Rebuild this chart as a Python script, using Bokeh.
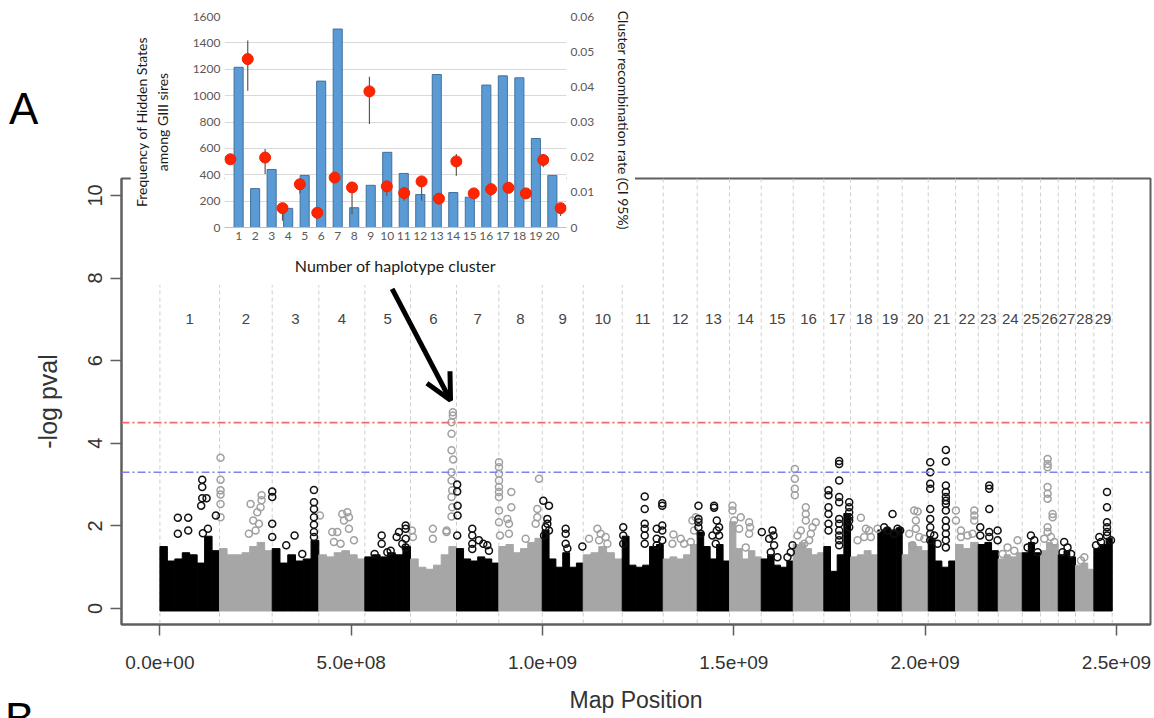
from bokeh.plotting import figure
from bokeh.models import (Range1d, FixedTicker, Span, Arrow, OpenHead, LinearAxis, Div)
from bokeh.layouts import column
from bokeh.embed import file_html
from bokeh.resources import INLINE
from bokeh.core.properties import value

# ---------------- main Manhattan plot data ----------------
chrom_names = [str(i) for i in range(1, 30)]
chrom_start_mb = [0, 155.8, 293.5, 415.3, 535.6, 655.0, 775.2, 885.8, 999.2, 1106.4,
                  1208.3, 1315.5, 1404.3, 1488.8, 1571.6, 1655.3, 1735.2, 1805.0, 1876.4,
                  1940.1, 2008.1, 2079.5, 2138.8, 2191.1, 2253.8, 2301.6, 2347.9, 2393.1,
                  2441.0]
genome_end_mb = 2489.0

# upper envelope of the dense point cloud, per chromosome (-log pval)
skyline_tops = [
    [1.5, 1.15, 1.2, 1.35, 1.3, 1.1, 1.75, 1.4],
    [1.45, 1.3, 1.3, 1.35, 1.5, 1.6, 1.4],
    [1.45, 1.1, 1.3, 1.15, 1.2, 1.65],
    [1.3, 1.25, 1.35, 1.4, 1.3, 1.2],
    [1.25, 1.3, 1.25, 1.35, 1.3, 1.5],
    [1.2, 1.0, 0.95, 1.05, 1.3, 1.5],
    [1.45, 1.2, 1.15, 1.25, 1.2, 1.1],
    [1.5, 1.55, 1.35, 1.45, 1.6, 1.7],
    [1.9, 1.2, 1.0, 1.35, 1.0, 1.1],
    [1.3, 1.35, 1.5, 1.35, 1.2],
    [1.75, 1.05, 1.0, 1.05, 1.5, 1.55],
    [1.2, 1.25, 1.2, 1.3, 1.55],
    [1.85, 1.5, 1.2, 1.55, 1.15],
    [2.1, 1.45, 1.2, 1.4, 1.25],
    [1.2, 1.3, 1.05, 1.0, 1.15],
    [1.55, 1.6, 1.45, 1.3, 1.35],
    [1.5, 0.9, 1.3, 2.3],
    [1.25, 1.3, 1.4, 1.3],
    [1.9, 1.95, 1.9, 1.95],
    [1.3, 1.6, 1.5, 1.4],
    [1.7, 1.15, 1.0, 1.15],
    [1.55, 1.45, 1.6],
    [1.55, 1.6, 1.4],
    [1.2, 1.3, 1.25, 1.35],
    [1.35, 1.6, 1.35],
    [1.4, 1.6, 1.55],
    [1.3, 1.4, 1.25],
    [1.05, 1.1, 0.95],
    [1.45, 1.55, 1.7],
]

# individual SNPs standing out of the cloud: (position Mb, -log pval)
black_outliers = [
    (46.9, 2.20), (74.0, 2.20), (74.0, 1.89), (46.9, 1.81), (110.6, 3.12), (110.6, 2.94),
    (110.6, 2.67), (121.9, 2.67), (107.9, 2.49), (146.3, 2.25), (125.4, 1.93), (112.3, 1.82),
    (293.6, 2.83), (293.6, 2.70), (293.6, 2.05), (293.6, 1.73), (330.2, 1.53), (352.0, 1.77),
    (372.1, 1.32), (402.6, 2.87), (402.6, 2.57), (402.6, 2.41), (402.6, 2.21), (402.6, 2.03),
    (402.6, 1.85), (402.6, 1.73),
    (579.6, 1.77), (579.6, 1.57), (561.2, 1.32), (594.4, 1.36), (624.9, 1.85), (618.8, 1.73),
    (642.3, 2.01), (642.3, 1.93), (642.3, 1.69), (642.3, 1.48), (603.1, 1.40), (633.6, 1.57),
    (777.0, 3.00), (777.0, 2.83), (778.0, 2.49), (778.0, 2.25), (777.0, 1.77), (816.4, 1.93),
    (816.4, 1.77), (816.4, 1.57), (816.4, 1.44), (833.9, 1.65), (845.2, 1.57), (855.7, 1.53),
    (860.0, 1.40),
    (1002.1, 2.61), (1016.9, 2.49), (1012.6, 2.17), (1012.6, 2.05), (1008.2, 1.97),
    (1003.9, 1.77), (1016.9, 1.89), (1060.5, 1.93), (1060.5, 1.81), (1060.5, 1.57),
    (1064.9, 1.45), (1104.1, 1.50),
    (1211.0, 1.97), (1211.0, 1.77), (1211.0, 1.57), (1267.1, 2.71), (1267.1, 2.41),
    (1267.1, 2.05), (1267.1, 1.93), (1267.1, 1.77), (1267.1, 1.57), (1298.5, 1.93),
    (1298.5, 1.69), (1298.5, 1.53), (1313.0, 2.55), (1313.0, 2.49), (1313.0, 2.01),
    (1313.0, 1.89), (1313.0, 1.65),
    (1407.5, 2.49), (1407.5, 2.17), (1407.5, 2.09), (1407.5, 1.97), (1413.6, 1.81),
    (1448.4, 2.49), (1448.4, 2.44), (1455.4, 2.13), (1455.4, 1.89), (1461.5, 1.97),
    (1461.5, 1.77), (1452.8, 1.57), (1444.1, 1.77),
    (1573.1, 1.85), (1592.3, 1.69), (1601.0, 1.89), (1603.6, 1.77), (1605.3, 1.53),
    (1596.6, 1.36), (1614.0, 1.24), (1640.2, 1.24), (1653.3, 1.53), (1648.9, 1.36),
    (1747.4, 2.86), (1747.4, 2.74), (1747.4, 2.45), (1747.4, 2.29), (1747.4, 2.05),
    (1747.4, 1.89), (1775.3, 3.57), (1775.3, 3.50), (1775.3, 3.10), (1775.3, 2.70),
    (1775.3, 2.57), (1775.3, 2.17), (1775.3, 2.05), (1775.3, 1.89), (1775.3, 1.77),
    (1775.3, 1.65), (1775.3, 1.53), (1801.5, 2.57), (1801.5, 2.45), (1801.5, 2.33),
    (1801.5, 2.21), (1801.5, 2.13), (1801.5, 1.97),
    (1914.8, 2.29), (1893.0, 1.97), (1927.9, 1.93), (1901.7, 1.89), (1919.1, 1.81),
    (1934.8, 1.89),
    (2013.3, 3.54), (2013.3, 3.30), (2013.3, 3.02), (2013.3, 2.90), (2013.3, 2.41),
    (2013.3, 2.17), (2013.3, 1.97), (2013.3, 1.81), (2013.3, 1.65), (2054.2, 3.84),
    (2054.2, 3.56), (2054.2, 2.98), (2054.2, 2.82), (2054.2, 2.70), (2054.2, 2.61),
    (2054.2, 2.53), (2054.2, 2.37), (2054.2, 2.13), (2054.2, 1.97), (2054.2, 1.81),
    (2054.2, 1.65), (2054.2, 1.48), (2023.7, 1.77), (2032.5, 1.57),
    (2167.6, 2.98), (2167.6, 2.90), (2167.6, 2.41), (2167.6, 1.85), (2167.6, 1.73),
    (2144.1, 1.97), (2144.1, 1.77), (2189.4, 1.89), (2189.4, 1.65),
    (2276.5, 1.77), (2285.3, 1.65), (2267.8, 1.48), (2294.0, 1.36),
    (2363.4, 1.61), (2372.1, 1.48), (2359.1, 1.36), (2381.4, 1.32),
    (2475.3, 2.82), (2475.3, 2.45), (2475.3, 2.09), (2475.3, 1.97), (2475.3, 1.85),
    (2475.3, 1.77), (2455.2, 1.73), (2459.6, 1.61), (2446.5, 1.53), (2485.7, 1.65),
]
gray_outliers = [
    (158.5, 3.65), (158.5, 3.12), (158.5, 2.86), (158.5, 2.76), (237.0, 2.53), (265.7, 2.74),
    (265.7, 2.62), (254.4, 2.33), (243.9, 2.13), (250.0, 1.89), (232.6, 1.81), (263.1, 2.45),
    (258.8, 2.05), (158.5, 2.53), (158.5, 2.21),
    (418.3, 2.25), (450.5, 1.85), (463.6, 1.85), (476.7, 2.29), (489.8, 2.33), (494.1, 2.21),
    (481.0, 2.13), (494.1, 1.93), (472.3, 1.57), (454.9, 1.61), (507.2, 1.65),
    (658.6, 1.89), (661.2, 1.73), (713.4, 1.93), (713.4, 1.69), (749.3, 1.89), (765.6, 4.75),
    (765.6, 4.67), (762.2, 4.51), (762.2, 4.23), (762.2, 3.83), (766.6, 3.61), (762.2, 3.30),
    (762.2, 3.10), (764.0, 2.86), (762.2, 2.70), (764.0, 2.45), (762.2, 2.23), (749.1, 1.85),
    (886.2, 3.54), (886.2, 3.42), (886.2, 3.26), (886.2, 3.10), (886.2, 2.94), (886.2, 2.82),
    (886.2, 2.70), (886.2, 2.37), (886.2, 2.09), (888.8, 1.77), (918.4, 2.82), (918.4, 2.45),
    (908.0, 2.17), (912.3, 2.05), (912.3, 1.81), (955.9, 1.69), (986.4, 2.21), (990.8, 3.14),
    (986.4, 2.41), (982.1, 2.05),
    (1121.5, 1.69), (1143.4, 1.93), (1152.0, 1.81), (1165.0, 1.73), (1147.7, 1.65),
    (1169.5, 1.57),
    (1342.1, 1.79), (1361.3, 1.69), (1391.8, 2.13), (1396.1, 1.89), (1387.4, 1.61),
    (1370.0, 1.57), (1339.5, 1.57), (1400.5, 2.21),
    (1496.4, 2.49), (1496.4, 2.37), (1518.2, 2.21), (1513.8, 1.93), (1540.0, 2.09),
    (1542.6, 1.97), (1540.0, 1.81), (1531.2, 1.48), (1500.7, 2.13),
    (1659.4, 3.38), (1659.4, 3.14), (1659.4, 2.90), (1659.4, 2.74), (1688.1, 2.45),
    (1688.1, 2.29), (1688.1, 2.13), (1675.1, 1.89), (1666.4, 1.77), (1714.3, 2.09),
    (1705.6, 1.97), (1696.9, 1.65), (1683.8, 1.57), (1701.2, 1.81),
    (1832.0, 2.20), (1845.1, 1.93), (1853.8, 1.89), (1858.1, 1.73), (1875.6, 1.93),
    (1840.7, 1.73), (1823.3, 1.65),
    (1971.5, 2.37), (1980.2, 2.35), (1975.8, 2.13), (1975.8, 1.93), (1984.5, 1.73),
    (1958.4, 1.81), (1997.6, 1.69), (1967.1, 1.53),
    (2080.4, 2.37), (2080.4, 2.13), (2093.5, 1.89), (2093.5, 1.73), (2128.4, 2.37),
    (2128.4, 2.25), (2128.4, 2.13), (2111.0, 1.77), (2124.0, 1.81),
    (2215.5, 1.48), (2232.9, 1.40), (2202.5, 1.32), (2241.7, 1.65),
    (2320.1, 3.62), (2320.1, 3.50), (2320.1, 3.42), (2320.1, 2.94), (2320.1, 2.78),
    (2320.1, 2.66), (2333.2, 2.29), (2333.2, 2.21), (2320.1, 1.97), (2320.1, 1.85),
    (2311.4, 1.69), (2328.9, 1.73), (2337.6, 1.61),
    (2416.0, 1.24), (2407.3, 1.16),
]

threshold_values = [4.5, 3.3]
threshold_colors = ["#F06A6A", "#8080F2"]
x_ticks = [0, 5e8, 1e9, 1.5e9, 2e9, 2.5e9]
x_tick_labels = ["0.0e+00", "5.0e+08", "1.0e+09", "1.5e+09", "2.0e+09", "2.5e+09"]
y_ticks = [0, 2, 4, 6, 8, 10]
chrom_label_level = 7
arrow_from = (607e6, 7.74)
arrow_to = (759.5e6, 5.04)
panel_letters = ["A", "B"]

# ---------------- inset data ----------------
cluster_ids = list(range(1, 21))
hidden_state_freq = [1215, 295, 440, 145, 395, 1110, 1505, 150, 320, 570,
                     410, 250, 1160, 265, 230, 1080, 1150, 1135, 675, 395]
recomb_rate = [0.0194, 0.0479, 0.0199, 0.0055, 0.0123, 0.0042, 0.0142, 0.0114, 0.0387, 0.0117,
               0.0098, 0.0131, 0.0082, 0.0188, 0.0097, 0.0109, 0.0113, 0.0097, 0.0192, 0.0055]
recomb_low = [0.0185, 0.0389, 0.0152, 0.0019, 0.0097, 0.0033, 0.0133, 0.0038, 0.0294, 0.0090,
              0.0076, 0.0076, 0.0071, 0.0147, 0.0085, 0.0090, 0.0100, 0.0085, 0.0171, 0.0033]
recomb_high = [0.0203, 0.0532, 0.0223, 0.0066, 0.0133, 0.0052, 0.0152, 0.0128, 0.0429, 0.0128,
               0.0109, 0.0147, 0.0090, 0.0209, 0.0104, 0.0123, 0.0123, 0.0104, 0.0209, 0.0066]
freq_ticks = [0, 200, 400, 600, 800, 1000, 1200, 1400, 1600]
rate_ticks = [0, 0.01, 0.02, 0.03, 0.04, 0.05, 0.06]
rate_tick_labels = ["0", "0.01", "0.02", "0.03", "0.04", "0.05", "0.06"]

MB = 1e6
BLACK = "#000000"
GRAY = "#A6A6A6"
R_FONT = "Liberation Sans"
XL_FONT = "Lato"

# ---------------- main figure ----------------
p = figure(width=1152, height=718,
           x_range=Range1d(-0.1004e9, 2.589e9), y_range=Range1d(-0.387, 10.41),
           output_backend="svg", toolbar_location=None,
           min_border_left=121, min_border_right=2, min_border_top=178, min_border_bottom=94)
if "frame_align" in p.properties():
    p.frame_align = False
p.grid.visible = False
p.outline_line_color = "#5E5E5E"
p.outline_line_width = 2
p.background_fill_color = "white"
p.border_fill_color = "white"

chrom_end_mb = chrom_start_mb[1:] + [genome_end_mb]

# chromosome separators
for loc in chrom_start_mb + [genome_end_mb]:
    p.add_layout(Span(location=loc * MB, dimension="height", line_color="#CFCFCF",
                      line_dash="4 3", line_width=1, level="underlay"))

# dense cloud
q_left, q_right, q_top, q_col = [], [], [], []
for i, tops in enumerate(skyline_tops):
    s, e = chrom_start_mb[i], chrom_end_mb[i]
    w = (e - s) / len(tops)
    col = BLACK if i % 2 == 0 else GRAY
    for j, t in enumerate(tops):
        q_left.append((s + j * w) * MB)
        q_right.append((s + (j + 1) * w) * MB)
        q_top.append(t)
        q_col.append(col)
p.quad(left=q_left, right=q_right, bottom=[-0.06] * len(q_top), top=q_top,
       fill_color=q_col, line_color=q_col, line_width=1)

p.scatter(x=[m * MB for m, v in gray_outliers], y=[v for m, v in gray_outliers],
          marker="circle", size=7, fill_color=None, line_color="#A0A0A0", line_width=1.5)
p.scatter(x=[m * MB for m, v in black_outliers], y=[v for m, v in black_outliers],
          marker="circle", size=7, fill_color=None, line_color="#111111", line_width=1.5)

for lvl, colr in zip(threshold_values, threshold_colors):
    p.add_layout(Span(location=lvl, dimension="width", line_color=colr,
                      line_dash="8 3 2 3", line_width=1.6))

mids = [(s + e) / 2 * MB for s, e in zip(chrom_start_mb, chrom_end_mb)]
p.text(x=mids, y=[chrom_label_level] * len(mids), text=chrom_names,
       text_align="center", text_baseline="middle", text_font=value(R_FONT),
       text_font_size="15px", text_color="#444444")

p.add_layout(Arrow(end=OpenHead(size=26, line_width=5, line_color="black"),
                   x_start=arrow_from[0], y_start=arrow_from[1],
                   x_end=arrow_to[0], y_end=arrow_to[1],
                   line_width=5, line_color="black"))

# axes
xa = p.xaxis[0]
xa.ticker = FixedTicker(ticks=x_ticks)
xa.major_label_overrides = dict(zip(x_ticks, x_tick_labels))
xa.axis_label = "Map Position"
ya = p.yaxis[0]
ya.ticker = FixedTicker(ticks=y_ticks)
ya.axis_label = "-log pval"
ya.major_label_orientation = "vertical"
for ax in (xa, ya):
    ax.axis_line_color = "#5E5E5E"
    ax.axis_line_width = 2
    ax.major_tick_line_color = "#5E5E5E"
    ax.major_tick_line_width = 1.5
    ax.major_tick_out = 11
    ax.major_tick_in = 0
    ax.minor_tick_line_color = None
    ax.major_label_text_font = R_FONT
    ax.major_label_text_color = "#333333"
    ax.axis_label_text_font = R_FONT
    ax.axis_label_text_font_style = "normal"
    ax.axis_label_text_color = "#333333"
xa.major_label_text_font_size = "19px"
xa.axis_label_text_font_size = "23px"
xa.major_label_standoff = 20
xa.axis_label_standoff = 15
ya.major_label_text_font_size = "20px"
ya.axis_label_text_font_size = "25px"
ya.major_label_standoff = 8
ya.axis_label_standoff = 24

# ---------------- inset figure ----------------
PAD = 6  # px of frame padding so edge markers are not clipped
BAR_PX = 338.3 / len(cluster_ids)
PT_PX = 338.3 / (len(cluster_ids) - 1)
inset = figure(width=505, height=285,
               x_range=Range1d(cluster_ids[0] - 0.5 - PAD / BAR_PX,
                               cluster_ids[-1] + 0.5 + PAD / BAR_PX),
               y_range=Range1d(0, 1600),
               output_backend="svg", toolbar_location=None,
               min_border_left=97 - PAD, min_border_right=70 - PAD, min_border_top=16,
               min_border_bottom=58)
if "frame_align" in inset.properties():
    inset.frame_align = False
inset.extra_y_ranges = {"rate": Range1d(0, 0.06)}
# the rate series is laid out "on tick marks": first point at left edge, last at right edge
inset.extra_x_ranges = {"pts": Range1d(cluster_ids[0] - PAD / PT_PX,
                                       cluster_ids[-1] + PAD / PT_PX)}
inset.outline_line_color = None
inset.background_fill_color = "white"
inset.border_fill_color = "white"
inset.xgrid.visible = False
inset.ygrid.grid_line_color = "#D9D9D9"
inset.ygrid.grid_line_width = 1

inset.vbar(x=cluster_ids, top=hidden_state_freq, width=0.55,
           fill_color="#5B9BD5", line_color="#41719C", line_width=1)

inset.segment(x0=cluster_ids, y0=recomb_low, x1=cluster_ids, y1=recomb_high,
              x_range_name="pts", y_range_name="rate",
              line_color="#5A5A5A", line_width=1.2)
inset.scatter(x=cluster_ids, y=recomb_rate, x_range_name="pts", y_range_name="rate",
              marker="circle", size=11, fill_color="#FF2400", line_color="#F02000",
              line_width=1)

ly = inset.yaxis[0]
ly.ticker = FixedTicker(ticks=freq_ticks)
ly.axis_label = "Frequency of Hidden States\namong GIII sires"

ry = LinearAxis(y_range_name="rate", ticker=FixedTicker(ticks=rate_ticks),
                major_label_overrides=dict(zip(rate_ticks, rate_tick_labels)),
                axis_label="Cluster recombination rate  (CI 95%)")
inset.add_layout(ry, "right")

bx = inset.xaxis[0]
bx.ticker = FixedTicker(ticks=cluster_ids)
bx.axis_label = "Number of haplotype cluster"
bx.axis_line_color = "#BFBFBF"
bx.major_tick_line_color = None
bx.major_tick_out = 0
bx.major_tick_in = 0
bx.major_label_standoff = 4
bx.axis_label_standoff = 13
bx.axis_label_text_font_size = "16px"

for ax in (ly, ry, bx):
    ax.major_label_text_font = XL_FONT
    ax.major_label_text_font_size = "12px"
    ax.major_label_text_color = "#595959"
    ax.axis_label_text_font = XL_FONT
    ax.axis_label_text_font_style = "normal"
    ax.axis_label_text_color = "#1A1A1A"
    ax.minor_tick_line_color = None
for ax in (ly, ry):
    ax.axis_line_color = None
    ax.major_tick_line_color = None
    ax.major_tick_out = 0
    ax.major_tick_in = 0
    ax.major_label_standoff = 10 - PAD
    ax.axis_label_text_font_size = "14px"
ly.axis_label_standoff = 19
ry.axis_label_standoff = 18

# overlay the inset onto the top-left of the main panel
inset.margin = (-718, 0, 0, 130)

# panel letters
letter_style = {"font-family": "Liberation Sans", "font-size": "44px",
                "line-height": "50px", "color": "black", "overflow": "hidden"}
div_a = Div(text=panel_letters[0], width=40, height=50, styles=letter_style,
            margin=(84 - 285, 0, 0, 9))
div_b = Div(text=panel_letters[1], width=40, height=24, styles=letter_style,
            margin=(694 - 134, 0, 0, 5))

layout = column(p, inset, div_a, div_b)
open("out.html", "w").write(file_html(layout, INLINE))
